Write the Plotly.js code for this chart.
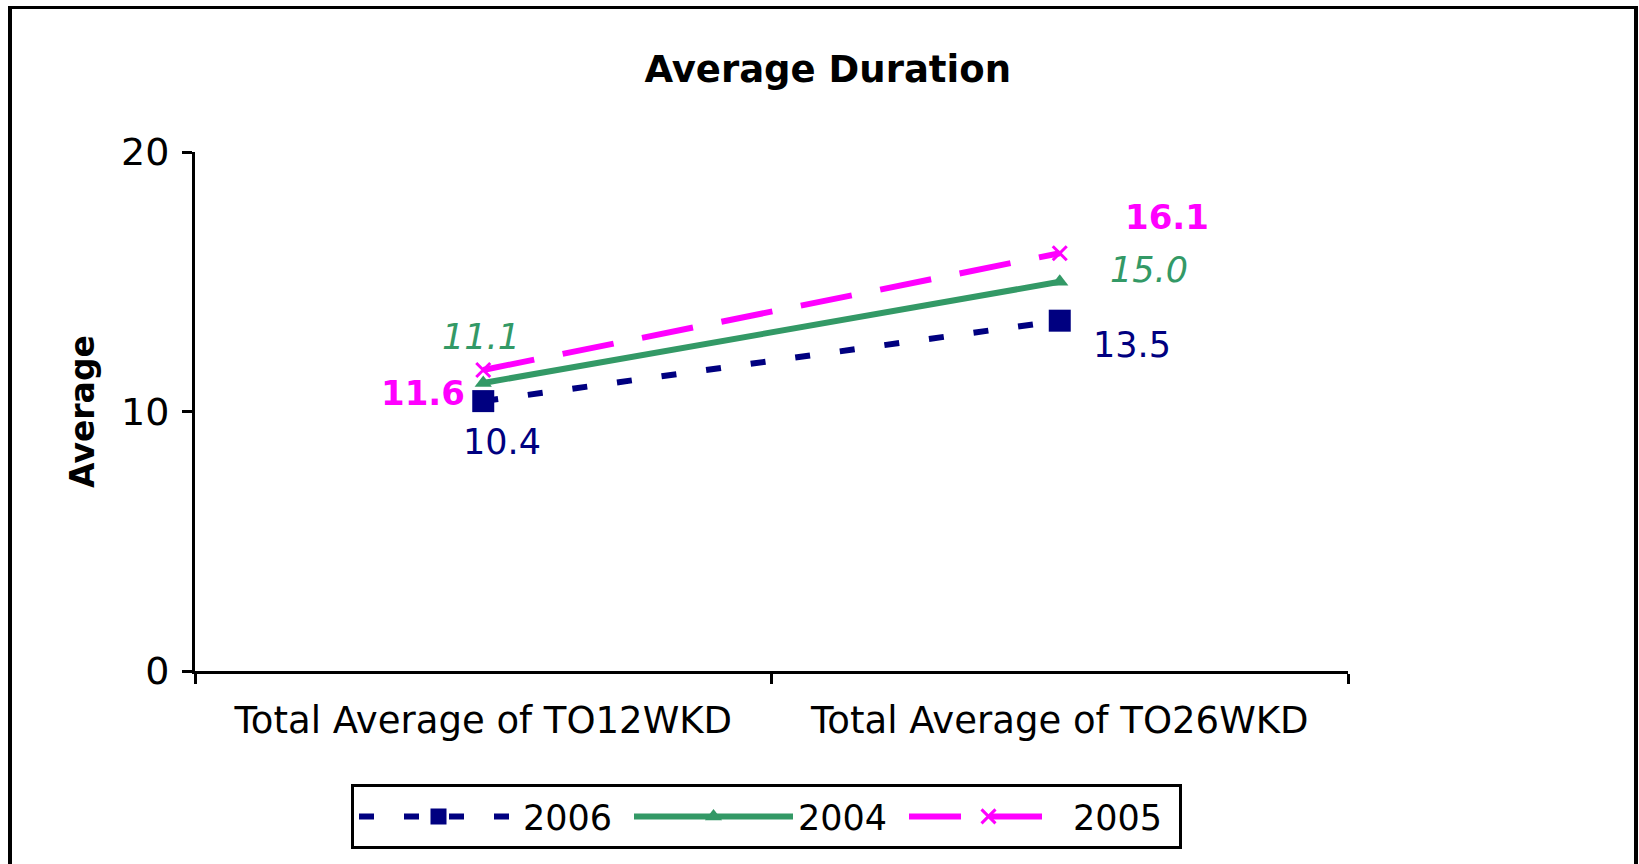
<!DOCTYPE html>
<html>
<head>
<meta charset="utf-8">
<script src="https://cdn.plot.ly/plotly-3.0.1.min.js"></script>
<style>
  html, body { margin: 0; padding: 0; background: #fff; overflow: hidden; }
  #chart { width: 1639px; height: 864px; position: absolute; left: 0; top: 0; }
  #frame { position: absolute; left: 8px; top: 6px; width: 1630px; height: 900px;
           box-sizing: border-box; border: 4px solid #000; border-top-width: 3px; pointer-events: none; }
</style>
</head>
<body>
<div id="chart"></div>
<div id="frame"></div>
<script>
// ---- data ----
const categories = ["Total Average of TO12WKD", "Total Average of TO26WKD"];
const seriesNames = ["2006", "2004", "2005"];
const values2006 = [10.4, 13.5];
const values2004 = [11.1, 15.0];
const values2005 = [11.6, 16.1];
const yTickVals = [0, 10, 20];

// ---- styles ----
const FONT = "DejaVu Sans, Verdana, sans-serif";
const styles = {
  "2006": { color: "#000080", dash: "15px,30px", symbol: "square", msize: 22, mline: 0,
            label: { size: 35, weight: "normal", style: "normal" },
            offsets: [[19, 41], [72, 24]] },
  "2004": { color: "#339966", dash: "solid", symbol: "triangle-up", msize: 15, mline: 0,
            label: { size: 35, weight: "normal", style: "italic" },
            offsets: [[-2, -46], [89, -12]] },
  "2005": { color: "#FF00FF", dash: "52px,29px", symbol: "x-thin-open", msize: 14, mline: 3,
            label: { size: 34, weight: "bold", style: "normal" },
            offsets: [[-60, 23], [107, -36]] }
};
const seriesValues = { "2006": values2006, "2004": values2004, "2005": values2005 };

const traces = seriesNames.map(name => {
  const s = styles[name];
  return {
    type: "scatter", mode: "lines+markers", name: name,
    x: categories, y: seriesValues[name],
    line: { color: s.color, width: 6, dash: s.dash },
    marker: { symbol: s.symbol, size: s.msize, color: s.color,
              line: { color: s.color, width: s.mline } },
    hoverinfo: "skip"
  };
});

const annotations = [];
seriesNames.forEach(name => {
  const s = styles[name];
  seriesValues[name].forEach((v, i) => {
    annotations.push({
      x: categories[i], y: v, xref: "x", yref: "y",
      text: v.toFixed(1), showarrow: false,
      xanchor: "center", yanchor: "middle",
      xshift: s.offsets[i][0], yshift: -s.offsets[i][1],
      font: { family: FONT, size: s.label.size, color: s.color,
              weight: s.label.weight, style: s.label.style }
    });
  });
});

const layout = {
  width: 1639, height: 864,
  margin: { l: 195, r: 291, t: 152, b: 193 },
  paper_bgcolor: "#fff", plot_bgcolor: "#fff",
  font: { family: FONT, size: 36, color: "#000" },
  title: { text: "Average Duration", x: 0.505, xanchor: "center",
           y: 1 - 69 / 864, yanchor: "middle",
           font: { family: FONT, size: 37, weight: "bold", color: "#000" } },
  showlegend: true,
  legend: {
    orientation: "h", x: 0.1353, xanchor: "left", y: -0.218, yanchor: "top",
    bordercolor: "#000", borderwidth: 3, bgcolor: "#fff",
    font: { family: FONT, size: 35, color: "#000" },
    itemwidth: 159, entrywidth: 101, entrywidthmode: "pixels", tracegroupgap: 0
  },
  xaxis: {
    type: "category", range: [-0.5, 1.5],
    showline: true, linecolor: "#000", linewidth: 3,
    ticks: "outside", tickson: "boundaries", ticklen: 10, tickwidth: 3, tickcolor: "#000",
    showgrid: false, zeroline: false, fixedrange: true, ticklabelstandoff: 15,
    tickfont: { family: FONT, size: 37, color: "#000" }
  },
  yaxis: {
    range: [0, 20], tickvals: yTickVals, ticktext: yTickVals.map(String),
    showline: true, linecolor: "#000", linewidth: 3,
    ticks: "outside", ticklen: 10, tickwidth: 3, tickcolor: "#000",
    showgrid: false, zeroline: false, fixedrange: true, ticklabelstandoff: 5,
    tickfont: { family: FONT, size: 38, color: "#000" },
    title: { text: "Average", standoff: 17,
             font: { family: FONT, size: 33, weight: "bold", color: "#000" } }
  },
  annotations: annotations
};

Plotly.newPlot("chart", traces, layout, { staticPlot: true, displayModeBar: false });
</script>
</body>
</html>
